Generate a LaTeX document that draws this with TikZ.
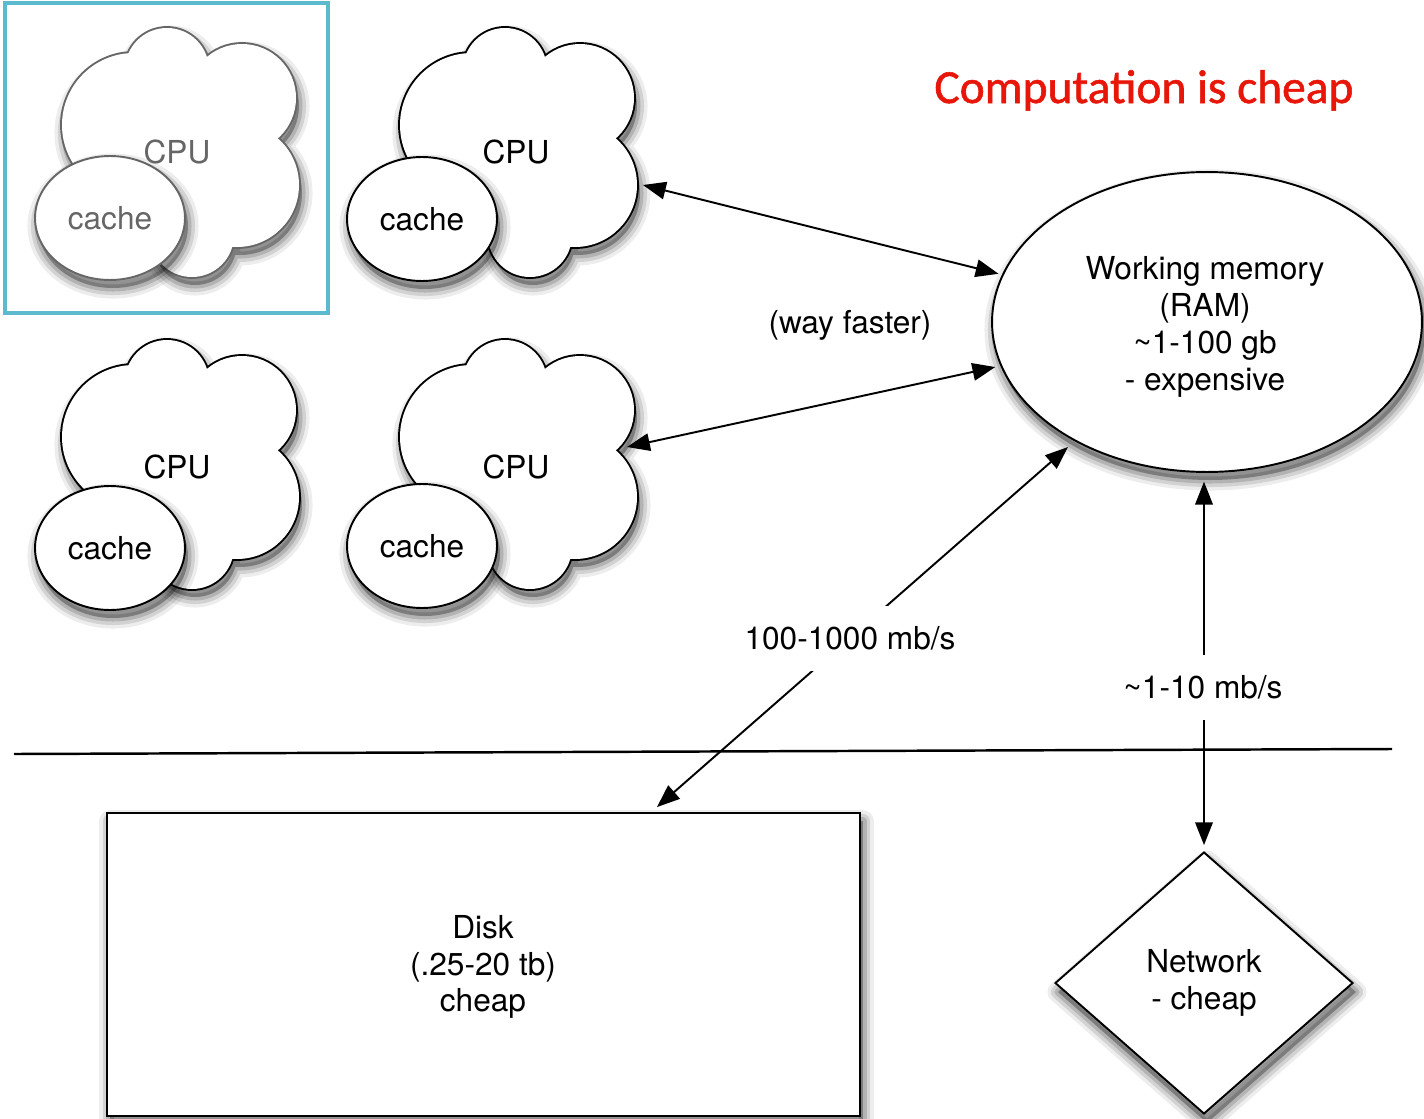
\documentclass[tikz,border=0pt]{standalone}
\usepackage{fontspec}
\setmainfont{TeX Gyre Heros}
\newfontfamily\titlefont[FakeBold=1.2]{Carlito}
\usetikzlibrary{arrows.meta,shapes.geometric}
\definecolor{titlered}{RGB}{232,22,8}
\definecolor{hilite}{RGB}{92,186,206}
\newcommand\lbl{\fontsize{18}{21}\selectfont}
\newcommand\cloudpath{(472,125) circle (72) (505,70) circle (42) (580,98) circle (54) (575,185) circle (62) (530,235) circle (42) (520,160) circle (70) (480,200) circle (40)}
\newcommand\softshadow[1]{%
  \begin{scope}[shift={(3,8)},line join=round]
    \fill[black,opacity=0.30] #1;
    \draw[black,opacity=0.15,line width=4pt] #1;
    \draw[black,opacity=0.11,line width=8pt] #1;
    \draw[black,opacity=0.07,line width=12pt] #1;
  \end{scope}}
% #1 cloud shift, #2 cache centre, #3 colour, #4 name prefix, #5 CPU text position
\newcommand\drawcloud[5]{%
  \begin{scope}[shift={#1}]
    \softshadow{\cloudpath}
    \draw[#3,line width=2.2pt] \cloudpath;
    \fill[white] \cloudpath;
  \end{scope}
  \softshadow{#2 ellipse [x radius=75, y radius=62]}
  \node[cachebox,draw=#3,text=#3] (#4cache) at #2 {cache};
  \node[text=#3] (#4cpu) at #5 {CPU};
}
\begin{document}
\begin{tikzpicture}[x=0.02cm,y=-0.02cm,
  every node/.style={font=\lbl},
  cachebox/.style={ellipse,minimum width=3cm,minimum height=2.48cm,inner sep=0pt,fill=white,line width=1.1pt},
  shapeline/.style={draw=black,fill=white,line width=1.1pt},
  conn/.style={line width=1.1pt,{Triangle[length=13pt,width=10pt]}-{Triangle[length=13pt,width=10pt]}},
  gaplabel/.style={fill=white,inner xsep=3pt,minimum height=1.3cm}]
\useasboundingbox (0,0) rectangle (1424,1119);
\fill[white] (0,0) rectangle (1424,1119);

% CPU clouds
\drawcloud{(-338,0)}{(110,218)}{black!60}{c1}{(177,152)}
\drawcloud{(0,0)}{(422,219)}{black}{c2}{(516,152)}
\drawcloud{(-338,312)}{(110,548)}{black}{c3}{(177,467)}
\drawcloud{(0,312)}{(422,546)}{black}{c4}{(516,467)}

% highlight frame
\draw[hilite,line width=2.2pt] (5,3) rectangle (328,313);

% Working memory
\softshadow{(1207,322) ellipse [x radius=215, y radius=150]}
\node[shapeline,ellipse,minimum width=8.6cm,minimum height=6cm,inner sep=0pt] (ram) at (1207,322) {};
\node[align=center] (ramtext) at (1205,327)
  {Working memory\\(RAM)\\\textasciitilde1-100 gb\\- expensive};

% Disk
\softshadow{(107,813) rectangle (860,1116)}
\node[shapeline,rectangle,minimum width=15.06cm,minimum height=6.06cm,inner sep=0pt] (disk) at (483.5,964.5) {};
\node[align=center] (disktext) at (483,967) {Disk\\(.25-20 tb)\\cheap};

% Network
\softshadow{(1204,853) -- (1353,984) -- (1204,1115) -- (1055,984) -- cycle}
\node[shapeline,diamond,minimum width=5.96cm,minimum height=5.24cm,inner sep=0pt,align=center] (net) at (1204,983)
  {Network\\- cheap};

% title
\node[text=titlered,font=\titlefont\fontsize{27}{32}\selectfont,anchor=base] (title) at (1144,103) {Computation is cheap};

% separator
\coordinate (sepL) at (14,754);
\coordinate (sepR) at (1392,749);
\draw[line width=1.4pt] (sepL) -- (sepR);

% connectors
\coordinate (cpu2e) at (643,185);
\coordinate (cpu4e) at (627,447);
\draw[conn,shorten >=2pt] (cpu2e) -- (ram.167);
\draw[conn,shorten >=3pt] (cpu4e) -- (ram.192);
\draw[conn,shorten >=5pt] ([xshift=3.47cm,yshift=0.1cm]disk.north) -- (ram.222);
\node[gaplabel] (lbldisk) at (850,638) {100-1000 mb/s};
\draw[conn,shorten <=5pt,shorten >=3.4pt] (ram.south -| net.north) -- (net.north);
\node[gaplabel] (lblnet) at (1203,687) {\textasciitilde1-10 mb/s};
\node (lblfast) at (850,325) {(way faster)};
\end{tikzpicture}
\end{document}
